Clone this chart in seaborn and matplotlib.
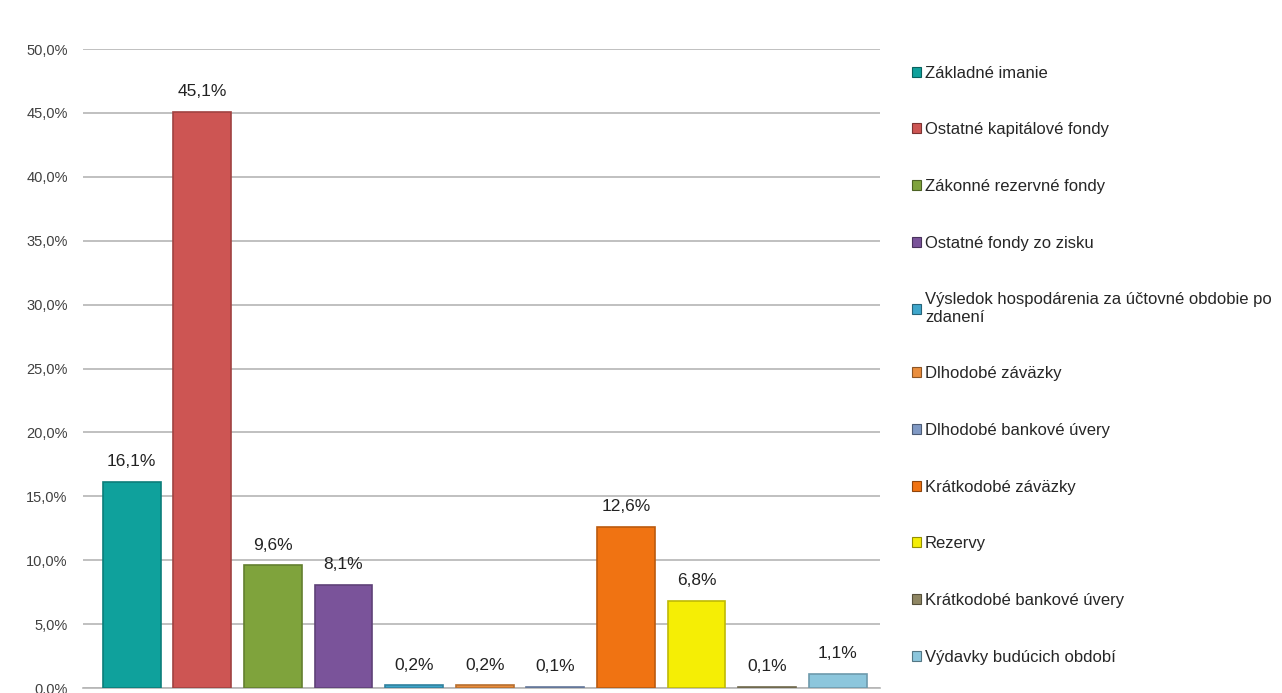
import matplotlib.pyplot as plt
import matplotlib.colors as mcolors
from matplotlib.patches import Patch
from matplotlib.ticker import FuncFormatter, MultipleLocator
import pandas as pd
import seaborn as sns


CATEGORIES = [
    "Základné imanie",
    "Ostatné kapitálové fondy",
    "Zákonné rezervné fondy",
    "Ostatné fondy zo zisku",
    "Výsledok hospodárenia za účtovné obdobie po\nzdanení",
    "Dlhodobé záväzky",
    "Dlhodobé bankové úvery",
    "Krátkodobé záväzky",
    "Rezervy",
    "Krátkodobé bankové úvery",
    "Výdavky budúcich období",
]
SHARES = [16.1, 45.1, 9.6, 8.1, 0.2, 0.2, 0.1, 12.6, 6.8, 0.1, 1.1]
COLORS = [
    "#0FA19C", "#CD5553", "#7FA33C", "#7A539A", "#3FA6CB", "#EA8E3D",
    "#8099C4", "#F07312", "#F5EE05", "#8F8663", "#8CC6DC",
]


def darker(color: str, factor: float = 0.78) -> tuple:
    r, g, b = mcolors.to_rgb(color)
    return (r * factor, g * factor, b * factor)


def pct(value: float, _pos=None) -> str:
    return f"{value:.1f}".replace(".", ",") + "%"


def main() -> None:
    sns.set_theme(style="white")
    plt.rcParams["font.family"] = ["Liberation Sans", "DejaVu Sans"]

    df = pd.DataFrame({"Category": CATEGORIES, "Share": SHARES})

    fig = plt.figure(figsize=(12.82, 6.93), dpi=100)
    ax = fig.add_axes([0.0647, 0.0072, 0.6218, 0.922])

    sns.barplot(
        data=df,
        x="Category",
        y="Share",
        hue="Category",
        palette=COLORS,
        saturation=1,
        dodge=False,
        width=0.82,
        legend=False,
        ax=ax,
    )
    for patch, color in zip(ax.patches, COLORS):
        patch.set_edgecolor(darker(color))
        patch.set_linewidth(1.2)
        patch.set_zorder(3)

    for i, value in enumerate(SHARES):
        ax.text(
            i, value + 1.0, pct(value),
            ha="center", va="bottom", fontsize=12.5, color="#222222",
        )

    ax.set_ylim(0, 50)
    ax.set_xlim(-0.69, 10.6)
    ax.yaxis.set_major_locator(MultipleLocator(5))
    ax.yaxis.set_major_formatter(FuncFormatter(pct))
    ax.grid(axis="y", color="#B5B5B5", linewidth=1.2, zorder=0)
    ax.set_axisbelow(True)
    ax.set_xticks([])
    ax.set_xlabel("")
    ax.set_ylabel("")
    ax.tick_params(axis="y", length=0, pad=11, labelsize=10.5, labelcolor="#404040")
    for side in ["top", "right", "left"]:
        ax.spines[side].set_visible(False)
    ax.spines["bottom"].set_color("#B5B5B5")
    ax.spines["bottom"].set_linewidth(1.2)

    handles = [
        Patch(facecolor=c, edgecolor=darker(c, 0.6), linewidth=0.8)
        for c in COLORS
    ]
    fig.legend(
        handles,
        CATEGORIES,
        loc="upper left",
        bbox_to_anchor=(0.706, 0.915),
        frameon=False,
        fontsize=12,
        handlelength=0.55,
        handleheight=0.55,
        handletextpad=0.25,
        labelspacing=2.5,
        borderaxespad=0,
    )

    fig.savefig("out.png", dpi=100)
    plt.close(fig)


if __name__ == "__main__":
    main()
